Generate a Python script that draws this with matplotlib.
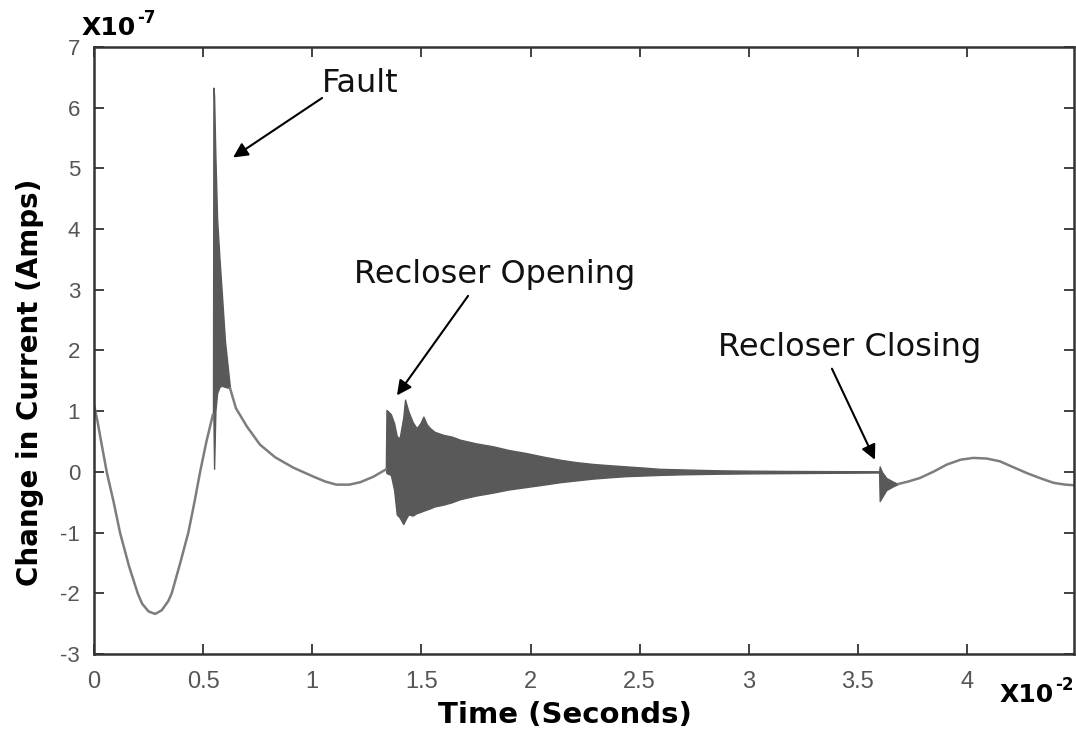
import matplotlib
matplotlib.use("Agg")
import matplotlib.pyplot as plt

plt.rcParams["axes.unicode_minus"] = False

# ------------------------------------------------------------------
# values (time in 1e-2 s, current in 1e-7 A)
# ------------------------------------------------------------------
# smooth part before the fault
pre_x = [0.0, 0.015, 0.03, 0.058, 0.09, 0.119, 0.16, 0.20, 0.22, 0.25,
         0.28, 0.31, 0.34, 0.356, 0.395, 0.432, 0.46, 0.486, 0.515, 0.545]
pre_y = [1.1, 0.85, 0.55, 0.0, -0.5, -1.0, -1.55, -2.0, -2.17, -2.3,
         -2.34, -2.28, -2.13, -2.0, -1.5, -1.0, -0.5, 0.0, 0.5, 0.95]

# fault burst envelope
fault_x = [0.545, 0.547, 0.550, 0.556, 0.564, 0.575, 0.585, 0.600, 0.623]
fault_hi = [0.95, 6.33, 6.2, 5.2, 4.16, 3.5, 2.97, 2.15, 1.38]
fault_lo = [0.95, 0.9, 0.05, 1.0, 1.3, 1.4, 1.42, 1.4, 1.38]

# smooth decay between fault and recloser opening
mid_x = [0.623, 0.65, 0.70, 0.76, 0.83, 0.913, 1.0, 1.06, 1.11, 1.17,
         1.22, 1.28, 1.337]
mid_y = [1.38, 1.05, 0.75, 0.45, 0.24, 0.07, -0.07, -0.16, -0.21, -0.21,
         -0.17, -0.08, 0.04]

# recloser opening oscillation envelope
open_x = [1.337, 1.340, 1.360, 1.375, 1.387, 1.400, 1.417, 1.425, 1.440,
          1.460, 1.478, 1.495, 1.509, 1.525, 1.540, 1.560, 1.600, 1.640,
          1.677, 1.750, 1.830, 1.900, 1.980, 2.060, 2.135, 2.210, 2.288,
          2.360, 2.440, 2.520, 2.593, 2.700, 2.868, 3.000, 3.200, 3.400,
          3.597]
open_hi = [0.04, 1.02, 0.95, 0.8, 0.59, 0.55, 0.9, 1.19, 1.0,
           0.82, 0.72, 0.8, 0.91, 0.78, 0.72, 0.66, 0.61, 0.58,
           0.53, 0.47, 0.42, 0.36, 0.31, 0.25, 0.2, 0.16, 0.13,
           0.11, 0.09, 0.07, 0.05, 0.04, 0.025, 0.02, 0.015, 0.012,
           0.01]
open_lo = [0.04, -0.02, -0.05, -0.3, -0.70, -0.75, -0.86, -0.8, -0.7,
           -0.72, -0.68, -0.66, -0.64, -0.62, -0.6, -0.57, -0.54, -0.5,
           -0.45, -0.39, -0.34, -0.29, -0.25, -0.21, -0.17, -0.14, -0.11,
           -0.09, -0.07, -0.06, -0.05, -0.04, -0.03, -0.025, -0.02, -0.015,
           -0.01]

# recloser closing transient
close_x = [3.597, 3.600, 3.610, 3.630, 3.660, 3.684]
close_hi = [0.0, 0.09, 0.0, -0.1, -0.16, -0.2]
close_lo = [0.0, -0.48, -0.42, -0.3, -0.24, -0.2]

# smooth tail
post_x = [3.684, 3.73, 3.785, 3.85, 3.907, 3.97, 4.029, 4.09, 4.15, 4.21,
          4.274, 4.34, 4.396, 4.45, 4.49]
post_y = [-0.2, -0.16, -0.1, 0.01, 0.12, 0.2, 0.23, 0.22, 0.175, 0.08,
          -0.02, -0.11, -0.18, -0.21, -0.22]

x_ticks = [0, 0.5, 1, 1.5, 2, 2.5, 3, 3.5, 4]
x_tick_labels = ["0", "0.5", "1", "1.5", "2", "2.5", "3", "3.5", "4"]
y_ticks = [-3, -2, -1, 0, 1, 2, 3, 4, 5, 6, 7]

# annotations: (label, arrow tip, arrow tail, text anchor)
notes = [
    ("Fault", (0.637, 5.18), (1.045, 6.16), (1.045, 6.4)),
    ("Recloser Opening", (1.388, 1.26), (1.714, 2.90), (1.19, 3.25)),
    ("Recloser Closing", (3.578, 0.20), (3.381, 1.70), (2.86, 2.05)),
]

# ------------------------------------------------------------------
line_col = "#7d7d7d"
burst_col = "#595959"

fig = plt.figure(figsize=(10.76, 7.32), dpi=100)
ax = fig.add_axes([0.0874, 0.1066, 0.9107, 0.8292])

for xs, ys in [(pre_x, pre_y), (mid_x, mid_y), (post_x, post_y)]:
    ax.plot(xs, ys, color=line_col, linewidth=1.8, solid_capstyle="round",
            solid_joinstyle="round")

for xs, hi, lo in [(fault_x, fault_hi, fault_lo),
                   (open_x, open_hi, open_lo),
                   (close_x, close_hi, close_lo)]:
    ax.fill_between(xs, lo, hi, color=burst_col, linewidth=1.0,
                    edgecolor=burst_col)

ax.set_xlim(0, 4.49)
ax.set_ylim(-3, 7)
ax.set_xticks(x_ticks)
ax.set_xticklabels(x_tick_labels)
ax.set_yticks(y_ticks)

ax.tick_params(direction="in", length=7, width=1.3, colors="#333333",
               top=True, right=True, labelcolor="#555555")
ax.tick_params(axis="y", labelsize=16, pad=10)
ax.tick_params(axis="x", labelsize=17, pad=12)
for lab in ax.get_xticklabels() + ax.get_yticklabels():
    lab.set_family(["Liberation Sans", "DejaVu Sans"])
for sp in ax.spines.values():
    sp.set_linewidth(1.8)
    sp.set_color("#333333")

for label, tip, tail, pos in notes:
    ax.annotate("", xy=tip, xytext=tail,
                arrowprops=dict(arrowstyle="-|>", color="black", lw=1.5,
                                mutation_scale=22, shrinkA=0, shrinkB=0))
    ax.text(pos[0], pos[1], label, fontsize=23, color="#111111",
            family="DejaVu Sans", va="center", ha="left")

# exponent labels (plain hyphen superscripts attached to the "X10" text)
for xpos, ypos, sup in [(0.076, 0.962, "-7"), (0.929, 0.050, "-2")]:
    base = fig.text(xpos, ypos, "X10", fontsize=18, fontweight="bold",
                    ha="left", va="center")
    fig.texts.append(plt.Annotation(sup, xy=(1.0, 0.55), xycoords=base,
                                    xytext=(1, 0), textcoords="offset points",
                                    fontsize=12, fontweight="bold",
                                    ha="left", va="bottom"))
    fig.texts[-1].set_figure(fig)

fig.text(0.028, 0.478, "Change in Current (Amps)", rotation=90, fontsize=20,
         fontweight="bold", ha="center", va="center")
fig.text(0.525, 0.023, "Time (Seconds)", fontsize=21, fontweight="bold",
         ha="center", va="center")

fig.savefig("out.png", dpi=100)
